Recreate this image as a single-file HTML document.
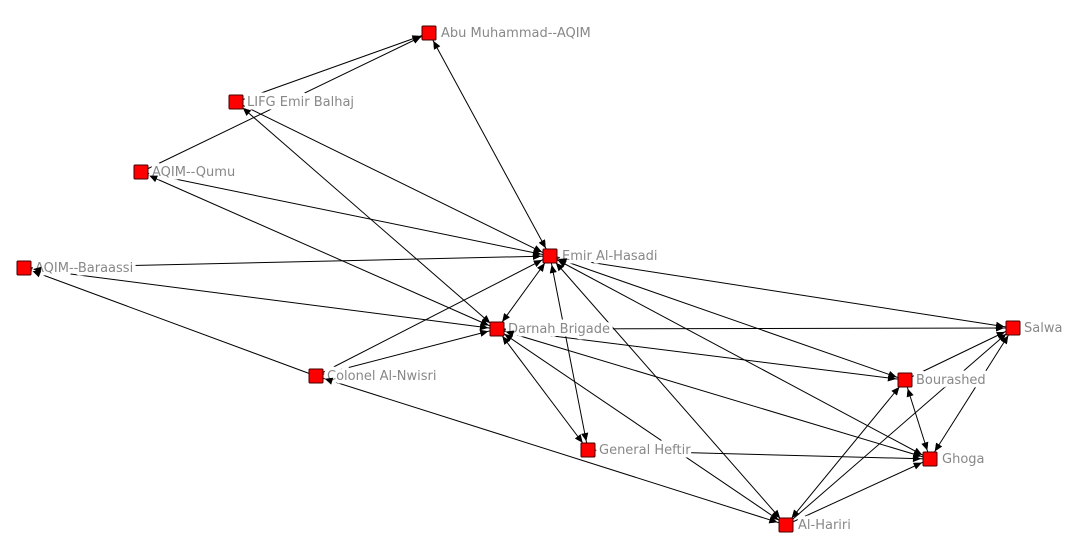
<!DOCTYPE html>
<html><head><meta charset="utf-8"><style>
html,body{margin:0;padding:0;background:#fff;}
svg{display:block;}
text{font-family:"DejaVu Sans","Liberation Sans",sans-serif;font-size:13px;fill:#888;stroke:#fff;stroke-width:7px;stroke-linejoin:round;paint-order:stroke;}
</style></head><body>
<svg width="1083" height="555" viewBox="0 0 1083 555" xmlns="http://www.w3.org/2000/svg">
<defs>
<marker id="a" markerUnits="userSpaceOnUse" markerWidth="30" markerHeight="30" refX="19" refY="10" orient="auto-start-reverse" viewBox="0 0 30 20">
<path d="M2,6.5 L10,10 L2,13.5 Z" fill="#000"/>
</marker>
<g id="edges">
<line x1="236" y1="102" x2="429" y2="33" marker-end="url(#a)"/>
<line x1="141" y1="172" x2="429" y2="33" marker-end="url(#a)"/>
<line x1="429" y1="33" x2="550" y2="256" marker-start="url(#a)" marker-end="url(#a)"/>
<line x1="236" y1="102" x2="550" y2="256" marker-end="url(#a)"/>
<line x1="236" y1="102" x2="497" y2="329" marker-start="url(#a)" marker-end="url(#a)"/>
<line x1="141" y1="172" x2="550" y2="256" marker-end="url(#a)"/>
<line x1="141" y1="172" x2="497" y2="329" marker-start="url(#a)" marker-end="url(#a)"/>
<line x1="24" y1="268" x2="550" y2="256" marker-end="url(#a)"/>
<line x1="24" y1="268" x2="497" y2="329" marker-start="url(#a)" marker-end="url(#a)"/>
<line x1="316" y1="376" x2="24" y2="268" marker-end="url(#a)"/>
<line x1="316" y1="376" x2="550" y2="256" marker-end="url(#a)"/>
<line x1="316" y1="376" x2="497" y2="329" marker-end="url(#a)"/>
<line x1="786" y1="525" x2="316" y2="376" marker-start="url(#a)" marker-end="url(#a)"/>
<line x1="550" y1="256" x2="497" y2="329" marker-start="url(#a)" marker-end="url(#a)"/>
<line x1="550" y1="256" x2="1013" y2="328" marker-end="url(#a)"/>
<line x1="550" y1="256" x2="905" y2="380" marker-start="url(#a)" marker-end="url(#a)"/>
<line x1="550" y1="256" x2="930" y2="459" marker-start="url(#a)" marker-end="url(#a)"/>
<line x1="550" y1="256" x2="786" y2="525" marker-start="url(#a)" marker-end="url(#a)"/>
<line x1="550" y1="256" x2="588" y2="450" marker-start="url(#a)" marker-end="url(#a)"/>
<line x1="497" y1="329" x2="1013" y2="328" marker-end="url(#a)"/>
<line x1="497" y1="329" x2="905" y2="380" marker-end="url(#a)"/>
<line x1="497" y1="329" x2="930" y2="459" marker-start="url(#a)" marker-end="url(#a)"/>
<line x1="497" y1="329" x2="588" y2="450" marker-start="url(#a)" marker-end="url(#a)"/>
<line x1="786" y1="525" x2="497" y2="329" marker-start="url(#a)" marker-end="url(#a)"/>
<line x1="588" y1="450" x2="930" y2="459" marker-end="url(#a)"/>
<line x1="786" y1="525" x2="905" y2="380" marker-start="url(#a)" marker-end="url(#a)"/>
<line x1="786" y1="525" x2="1013" y2="328" marker-end="url(#a)"/>
<line x1="786" y1="525" x2="930" y2="459" marker-end="url(#a)"/>
<line x1="905" y1="380" x2="1013" y2="328" marker-end="url(#a)"/>
<line x1="905" y1="380" x2="930" y2="459" marker-start="url(#a)" marker-end="url(#a)"/>
<line x1="930" y1="459" x2="1013" y2="328" marker-start="url(#a)" marker-end="url(#a)"/>
</g>
</defs>
<use href="#edges" stroke="#000" stroke-width="1" fill="none"/>
<g>
<text x="441" y="37">Abu Muhammad--AQIM</text>
<text x="247" y="106">LIFG Emir Balhaj</text>
<text x="152" y="176">AQIM--Qumu</text>
<text x="35" y="272">AQIM--Baraassi</text>
<text x="562" y="260">Emir Al-Hasadi</text>
<text x="508" y="333">Darnah Brigade</text>
<text x="327" y="380">Colonel Al-Nwisri</text>
<text x="1024" y="332">Salwa</text>
<text x="916" y="384">Bourashed</text>
<text x="599" y="454">General Heftir</text>
<text x="942" y="463">Ghoga</text>
<text x="798" y="529">Al-Hariri</text>
</g>
<use href="#edges" stroke="none" fill="none"/>
<g fill="#f00" stroke="#400" stroke-width="1">
<rect x="422" y="26" width="14" height="14" rx="1"/>
<rect x="229" y="95" width="14" height="14" rx="1"/>
<rect x="134" y="165" width="14" height="14" rx="1"/>
<rect x="17" y="261" width="14" height="14" rx="1"/>
<rect x="543" y="249" width="14" height="14" rx="1"/>
<rect x="490" y="322" width="14" height="14" rx="1"/>
<rect x="309" y="369" width="14" height="14" rx="1"/>
<rect x="1006" y="321" width="14" height="14" rx="1"/>
<rect x="898" y="373" width="14" height="14" rx="1"/>
<rect x="581" y="443" width="14" height="14" rx="1"/>
<rect x="923" y="452" width="14" height="14" rx="1"/>
<rect x="779" y="518" width="14" height="14" rx="1"/>
</g>
</svg>
</body></html>
